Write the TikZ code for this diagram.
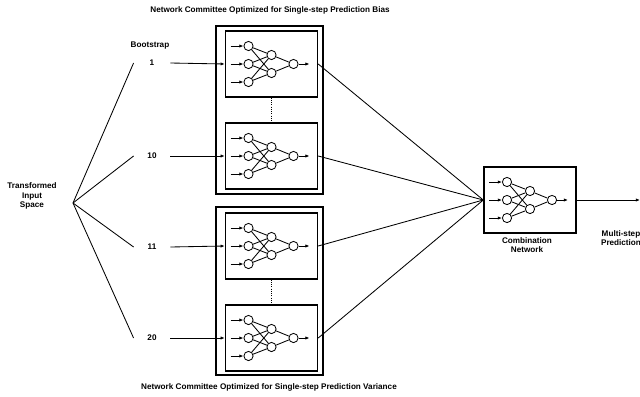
\documentclass[tikz,border=0pt]{standalone}
\usepackage{fontspec}
\setmainfont{Liberation Sans}
\usetikzlibrary{arrows.meta}

\begin{document}
\begin{tikzpicture}[x=0.025cm,y=-0.025cm,
        font=\fontsize{5.8}{6.6}\selectfont\bfseries,
        line width=0.6pt,
        neuron/.style={circle,draw,inner sep=0pt,minimum size=0.23cm},
        netbox/.style={draw,line width=1pt,minimum width=2.3cm,minimum height=1.65cm},
        grpbox/.style={draw,line width=1.1pt},
        lbl/.style={align=center,inner sep=1pt},
        num/.style={minimum width=0.9cm,inner sep=0pt},
        tip/.style={-{Latex[length=3pt,width=2.4pt]}},
        ann/.pic={
            \node[netbox] (-box) at (0,0) {};
            \node[neuron] (-i1) at (-23,-18) {};
            \node[neuron] (-i2) at (-23,0) {};
            \node[neuron] (-i3) at (-23,18) {};
            \node[neuron] (-h1) at (0,-9) {};
            \node[neuron] (-h2) at (0,9) {};
            \node[neuron] (-o) at (22,0) {};
            \coordinate (-a1) at (-41,-18);
            \coordinate (-a2) at (-41,0);
            \coordinate (-a3) at (-41,18);
            \coordinate (-z) at (38,0);
            \foreach \i in {1,2,3} {
                \draw[tip] (-a\i) -- (-i\i);
                \draw (-i\i) -- (-h1);
                \draw (-i\i) -- (-h2);
            }
            \draw (-h1) -- (-o);
            \draw (-h2) -- (-o);
            \draw[tip] (-o) -- (-z);
        }]
    \useasboundingbox (0,0) rectangle (640,396);

    % committee boxes
    \draw[grpbox] (216,26) rectangle (323,194);
    \draw[grpbox] (216,207) rectangle (323,375);
    \pic (n1) at (271.5,64) {ann};
    \pic (n2) at (271.5,156) {ann};
    \pic (n3) at (271.5,246) {ann};
    \pic (n4) at (271.5,338) {ann};
    \pic (cmb) at (530,200) {ann};
    \draw[densely dotted] (n1-box.south) -- (n2-box.north);
    \draw[densely dotted] (n3-box.south) -- (n4-box.north);

    % texts
    \node[lbl] (top) at (270,10) {Network Committee Optimized for Single-step Prediction Bias};
    \node[lbl] (bot) at (269,387) {Network Committee Optimized for Single-step Prediction Variance};
    \node[lbl] (src) at (32,196) {Transformed\\Input\\Space};
    \node[lbl] (boot) at (150,46) {Bootstrap};
    \node[num] (b1) at (152,63) {1};
    \node[num] (b10) at (152,156) {10};
    \node[num] (b11) at (152,247) {11};
    \node[num] (b20) at (152,338) {20};
    \node[lbl] (cmbtxt) at (527,245) {Combination\\Network};
    \node[lbl] (outtxt) at (621,238) {Multi-step\\Prediction};
    \coordinate (fan) at (73,203);
    \coordinate (out) at (640,200);

    % connectors
    \foreach \b in {b1,b10,b11,b20} {
        \draw (fan) -- (\b.west);
    }
    \draw[tip] (b1.east) -- (n1-box.west);
    \draw[tip] (b10.east) -- (n2-box.west);
    \draw[tip] (b11.east) -- (n3-box.west);
    \draw[tip] (b20.east) -- (n4-box.west);
    \foreach \n in {n1,n2,n3,n4} {
        \draw (\n-box.east) -- (cmb-box.west);
    }
    \draw[tip] (cmb-box.east) -- (out);
\end{tikzpicture}
\end{document}
